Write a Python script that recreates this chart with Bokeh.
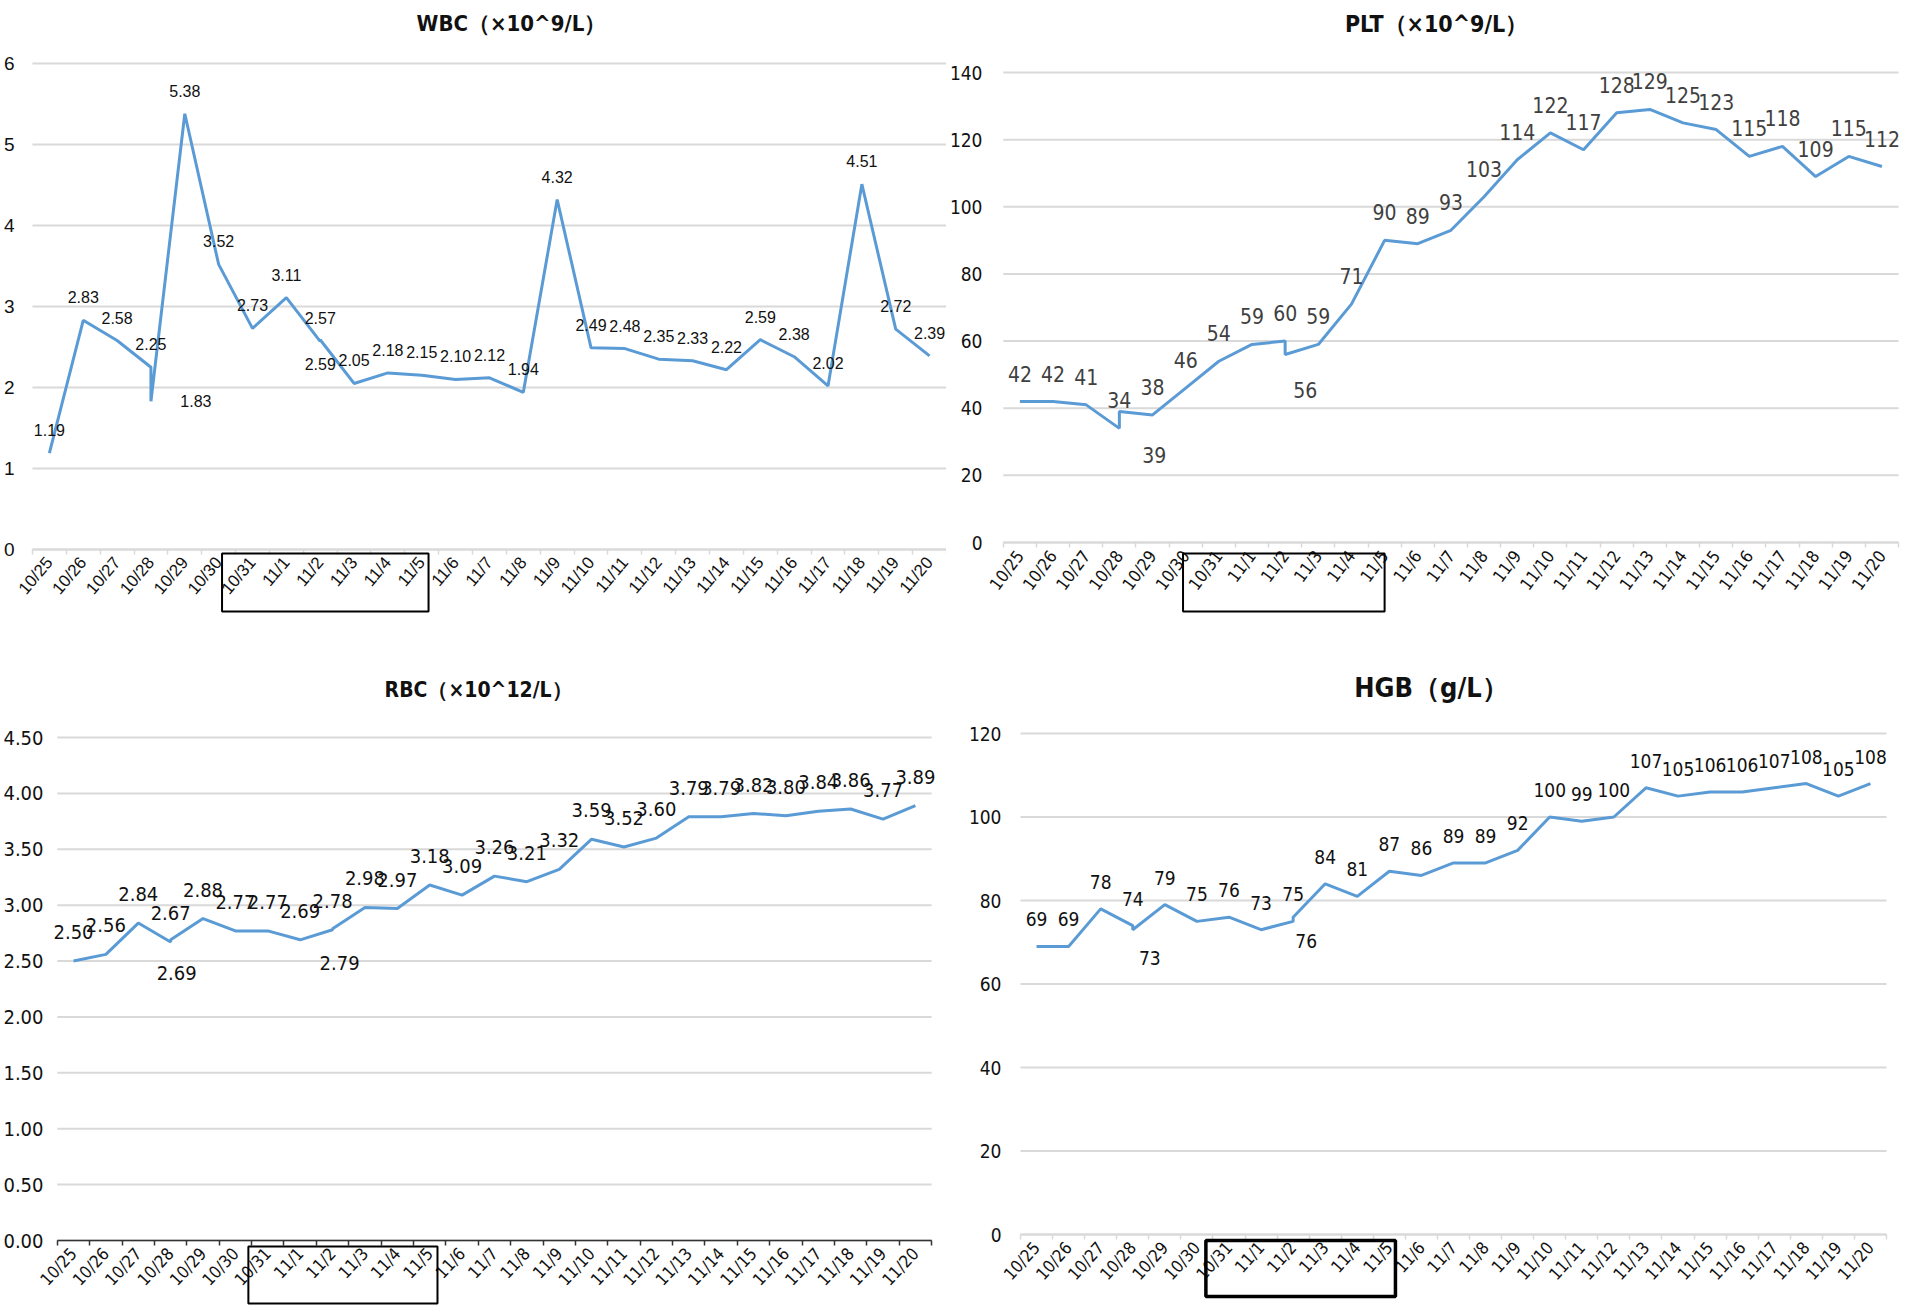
from bokeh.plotting import figure
from bokeh.models import FixedTicker, Range1d, ColumnDataSource, PrintfTickFormatter
from bokeh.layouts import column, row
from bokeh.core.properties import value
from bokeh.embed import file_html
from bokeh.resources import INLINE

# ---------------- data ----------------
days = ["10/25", "10/26", "10/27", "10/28", "10/29", "10/30", "10/31",
        "11/1", "11/2", "11/3", "11/4", "11/5", "11/6", "11/7", "11/8", "11/9",
        "11/10", "11/11", "11/12", "11/13", "11/14", "11/15", "11/16", "11/17",
        "11/18", "11/19", "11/20"]

# two blood draws on 10/28 and on 11/2
sample_days = ["10/25", "10/26", "10/27", "10/28", "10/28", "10/29", "10/30", "10/31",
               "11/1", "11/2", "11/2", "11/3", "11/4", "11/5", "11/6", "11/7", "11/8",
               "11/9", "11/10", "11/11", "11/12", "11/13", "11/14", "11/15", "11/16",
               "11/17", "11/18", "11/19", "11/20"]

wbc = [1.19, 2.83, 2.58, 2.25, 1.83, 5.38, 3.52, 2.73, 3.11, 2.57, 2.59, 2.05, 2.18, 2.15,
       2.10, 2.12, 1.94, 4.32, 2.49, 2.48, 2.35, 2.33, 2.22, 2.59, 2.38, 2.02, 4.51, 2.72, 2.39]
plt_ = [42, 42, 41, 34, 39, 38, 46, 54, 59, 60, 56, 59, 71, 90, 89, 93, 103, 114, 122, 117,
        128, 129, 125, 123, 115, 118, 109, 115, 112]
rbc = [2.50, 2.56, 2.84, 2.67, 2.69, 2.88, 2.77, 2.77, 2.69, 2.78, 2.79, 2.98, 2.97, 3.18,
       3.09, 3.26, 3.21, 3.32, 3.59, 3.52, 3.60, 3.79, 3.79, 3.82, 3.80, 3.84, 3.86, 3.77, 3.89]
hgb = [69, 69, 78, 74, 73, 79, 75, 76, 73, 75, 76, 84, 81, 87, 86, 89, 89, 92, 100, 99, 100,
       107, 105, 106, 106, 107, 108, 105, 108]

titles = ["WBC（×10^9/L）", "PLT（×10^9/L）", "RBC（×10^12/L）", "HGB（g/L）"]
y_ticks = [[0, 1, 2, 3, 4, 5, 6],
           [0, 20, 40, 60, 80, 100, 120, 140],
           [0, 0.5, 1.0, 1.5, 2.0, 2.5, 3.0, 3.5, 4.0, 4.5],
           [0, 20, 40, 60, 80, 100, 120]]
label_fmt = ["{:.2f}", "{:d}", "{:.2f}", "{:d}"]
y_fmt = ["%d", "%d", "%.2f", "%d"]
boxed = ("10/31", "11/5")

# ---------------- style ----------------
BLUE = "#5b9bd5"
GRID = "#d9d9d9"
NARROW = "DejaVu Sans Condensed, Liberation Sans"
NORMAL = "Liberation Sans"
WIDTHS = [946, 954, 946, 954]
HEIGHTS = [650, 650, 658, 658]
EXT = 20  # extra frame pixels left of the first category (room for the first tick label)

# L/R: pixel columns of the category area, t/z: pixel rows of top gridline and zero line
styles = [
    dict(L=30, R=946, t=63, z=549, yr=18, font=NORMAL, tick_fs="17px", ylab_fs="19px",
         dl_fs="16px", title_fs="22px", title_xy=(510, 23), angle=0.87, dl_off=-23,
         dl_col="#111111", axis_col=GRID, axis_w=2, box=(-0.9, 0.2, 4, 62), box_w=2,
         dup=[(45, 0), (0, 24)]),
    dict(L=49, R=952, t=72, z=542, yr=34, font=NARROW, tick_fs="17px", ylab_fs="19px",
         dl_fs="21px", title_fs="23px", title_xy=(486, 23), angle=0.93, dl_off=-28,
         dl_col="#404040", axis_col=GRID, axis_w=2, box=(-1.08, 0.0, 11, 69), box_w=2,
         dup=[(35, 43), (20, 35)]),
    dict(L=49, R=931, t=87, z=590, yr=41, font=NARROW, tick_fs="17px", ylab_fs="20px",
         dl_fs="20px", title_fs="21px", title_xy=(474, 39), angle=0.82, dl_off=-29,
         dl_col="#111111", axis_col="#333333", axis_w=1.5, box=(-0.6, 0.24, 6, 63), box_w=2,
         dup=[(6, 33), (7, 34)]),
    dict(L=74, R=940, t=83, z=584, yr=61, font=NARROW, tick_fs="17px", ylab_fs="19px",
         dl_fs="19px", title_fs="27px", title_xy=(485, 37), angle=0.84, dl_off=-27,
         dl_col="#111111", axis_col=GRID, axis_w=2, box=(-0.72, 0.19, 6, 62), box_w=3.5,
         dup=[(17, 28), (13, 24)]),
]

series = [wbc, plt_, rbc, hgb]


def make(i):
    st = styles[i]
    W = WIDTHS[i]
    H = HEIGHTS[i]
    vals = series[i]
    ticks = y_ticks[i]
    n = len(days)
    top_val = ticks[-1]
    # data units per pixel so that the top gridline and the zero line land where wanted;
    # the frame covers the whole figure height (axis drawn at y = 0, title inside)
    u = (top_val - ticks[0]) / (st["z"] - st["t"])
    y_end = top_val + st["t"] * u
    y_start = -(H - st["z"]) * u
    catw = (st["R"] - st["L"]) / n
    x_start = -0.5 - EXT / catw
    x_end = n - 0.5 + (W - st["R"]) / catw
    frame_left = st["L"] - EXT
    p = figure(width=W, height=H, output_backend="svg", toolbar_location=None,
               x_range=Range1d(x_start, x_end), y_range=Range1d(y_start, y_end),
               min_border_left=frame_left, min_border_right=0,
               min_border_top=0, min_border_bottom=0)
    try:
        p.frame_align = False
    except Exception:
        pass
    p.outline_line_color = None
    p.background_fill_color = "white"
    p.border_fill_color = "white"

    # horizontal gridlines across the category area only
    p.ygrid.visible = False
    p.xgrid.visible = False
    p.segment(x0=[-0.5] * len(ticks), x1=[n - 0.5] * len(ticks), y0=ticks, y1=ticks,
              line_color=GRID, line_width=2, level="underlay")
    # category axis line at zero
    p.segment(x0=[-0.5], x1=[n - 0.5], y0=[ticks[0]], y1=[ticks[0]],
              line_color=st["axis_col"], line_width=st["axis_w"], level="underlay")

    # x axis at the zero line: categories between tick marks
    p.xaxis.fixed_location = 0
    p.xaxis.ticker = FixedTicker(ticks=list(range(n)), minor_ticks=[k - 0.5 for k in range(n + 1)])
    p.xaxis.major_label_overrides = {k: d for k, d in enumerate(days)}
    p.xaxis.major_tick_line_color = None
    p.xaxis.minor_tick_line_color = st["axis_col"]
    p.xaxis.minor_tick_line_width = 1.5
    p.xaxis.minor_tick_out = 5
    p.xaxis.minor_tick_in = 0
    p.xaxis.axis_line_color = None
    p.xaxis.major_label_orientation = st["angle"]
    p.xaxis.major_label_text_font = st["font"]
    p.xaxis.major_label_text_font_size = st["tick_fs"]
    p.xaxis.major_label_text_color = "#111111"
    p.xaxis.major_label_standoff = 4

    # y axis (labels only)
    p.yaxis.ticker = FixedTicker(ticks=ticks)
    p.yaxis.formatter = PrintfTickFormatter(format=y_fmt[i])
    p.yaxis.axis_line_color = None
    p.yaxis.major_tick_line_color = None
    p.yaxis.minor_tick_line_color = None
    p.yaxis.major_label_text_font = st["font"]
    p.yaxis.major_label_text_font_size = st["ylab_fs"]
    p.yaxis.major_label_text_color = "#111111"
    p.yaxis.major_label_standoff = frame_left - st["yr"]

    # series
    xs = [days.index(d) for d in sample_days]
    labels = [label_fmt[i].format(v) for v in vals]
    second = [k > 0 and sample_days[k] == sample_days[k - 1] for k in range(len(vals))]
    src = ColumnDataSource(dict(x=xs, y=vals))
    p.line("x", "y", source=src, line_color=BLUE, line_width=3)

    keep = [k for k in range(len(xs)) if not second[k]]
    dup = [k for k in range(len(xs)) if second[k]]
    top_src = ColumnDataSource(dict(x=[xs[k] for k in keep], y=[vals[k] for k in keep],
                                    lab=[labels[k] for k in keep]))
    p.text("x", "y", text="lab", source=top_src, text_align="center", text_baseline="middle",
           y_offset=st["dl_off"], text_font=value(st["font"]), text_font_size=st["dl_fs"],
           text_color=st["dl_col"])
    for m, k in enumerate(dup):
        dx, dy = st["dup"][m]
        p.text([xs[k]], [vals[k]], text=[labels[k]], text_align="center", text_baseline="middle",
               x_offset=dx, y_offset=dy, text_font=value(st["font"]),
               text_font_size=st["dl_fs"], text_color=st["dl_col"])

    # chart title (inside the extended frame, above the top gridline)
    tx, ty = st["title_xy"]
    p.text([-0.5 + (tx - st["L"]) / catw], [y_end - ty * u], text=[titles[i]],
           text_align="center", text_baseline="middle", text_font=value(NARROW),
           text_font_style="bold", text_font_size=st["title_fs"], text_color="#111111")

    # highlighted date range around the tick labels
    bl, br, bt, bb = st["box"]
    p.quad(left=[days.index(boxed[0]) + bl], right=[days.index(boxed[1]) + br],
           top=[-bt * u], bottom=[-bb * u], fill_color=None, fill_alpha=0,
           line_color="black", line_width=st["box_w"], level="overlay")
    return p


figs = [make(i) for i in range(4)]
layout = column(row(figs[0], figs[1]), row(figs[2], figs[3]))
open("out.html", "w").write(file_html(layout, INLINE))
